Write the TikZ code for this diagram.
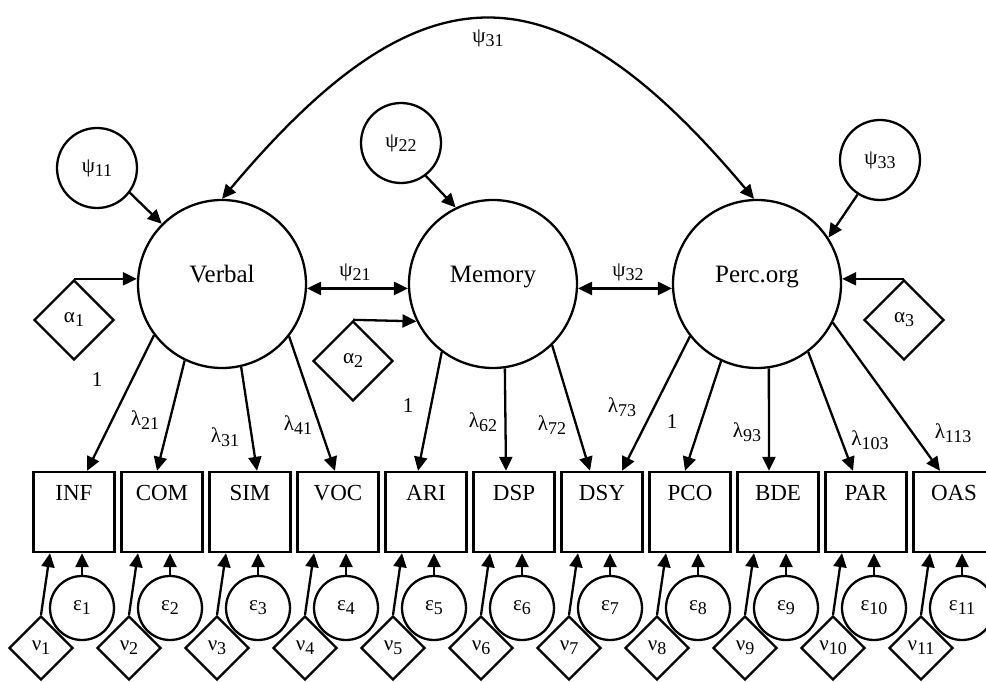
\documentclass[tikz,border=0pt]{standalone}
\usepackage{fontspec}
\setmainfont{Liberation Serif}
\usetikzlibrary{shapes.geometric,arrows.meta,calc}
\newcommand{\sbs}[1]{\raisebox{-2pt}{\fontsize{9}{10}\selectfont #1}}

\begin{document}
\begin{tikzpicture}
[x=0.5pt, y=0.5pt, line width=1.15pt, >={Triangle[length=7pt,width=6.5pt]},
lat/.style={circle,draw,minimum size=84pt,inner sep=0pt,text height=8pt,text depth=9pt,font=\fontsize{12.5}{14}\selectfont},
dist/.style={circle,draw,minimum size=40pt,inner sep=0pt,font=\fontsize{10.5}{12}\selectfont},
mean/.style={diamond,draw,aspect=1,minimum size=40pt,inner sep=0pt,font=\fontsize{10.5}{12}\selectfont},
obs/.style={rectangle,draw,minimum width=40.5pt,inner sep=0pt,text height=14.5pt,text depth=25.5pt,font=\fontsize{11.5}{13}\selectfont},
err/.style={circle,draw,minimum size=32pt,inner sep=0pt,font=\fontsize{10.5}{12}\selectfont},
icpt/.style={diamond,draw,aspect=1,minimum size=32pt,inner sep=0pt,font=\fontsize{10.5}{12}\selectfont},
lbl/.style={inner sep=1pt,font=\fontsize{10.5}{12}\selectfont}]
\useasboundingbox (0,0) rectangle (986,681);

% factors
\node[lat] (V) at (222,397) {Verbal};
\node[lat] (M) at (493,397) {Memory};
\node[lat] (P) at (757,397) {Perc.org};

\node[dist] (psi11) at (97,513) {ψ\sbs{11}};
\node[dist] (psi22) at (401,538) {ψ\sbs{22}};
\node[dist] (psi33) at (880,521) {ψ\sbs{33}};

\node[mean] (a1) at (74,361) {α\sbs{1}};
\node[mean] (a2) at (353,320) {α\sbs{2}};
\node[mean] (a3) at (904,361) {α\sbs{3}};

\draw[->] (psi11.-37) -- (V.135);
\draw[->] (psi22.-53) -- (M.116);
\draw[->] (psi33.237) -- (P.33);
\draw[->] (a1.north) -- (a1.north -| V.west);
\draw[->] (a2.north) -- (M.206);
\draw[->] (a3.north) -- (a3.north -| P.east);

\draw[<->] (V.-3) -- (M.183);
\draw[<->] (M.-3) -- (P.183);
\draw[<->] (V.90) to[out=50,in=130,looseness=1.5] node[lbl,pos=.5,yshift=-9pt] (l31) {ψ\sbs{31}} (P.92);
\node[lbl] (l21) at (355,409) {ψ\sbs{21}};
\node[lbl] (l32) at (628,409) {ψ\sbs{32}};

% indicators
\foreach \nm/\lab [count=\i] in {inf/INF,com/COM,sim/SIM,voc/VOC,ari/ARI,dsp/DSP,dsy/DSY,pco/PCO,bde/BDE,par/PAR,oas/OAS}{
  \node[obs] (\nm) at ({74+88*(\i-1)},169) {\lab};
  \node[err] (e\i) at ({82+88*(\i-1)},73) {ε\sbs{\i}};
  \node[icpt] (n\i) at ({41+88*(\i-1)},33) {ν\sbs{\i}};
  \draw[->] (e\i.north) -- (e\i.north |- \nm.south);
  \draw[->] (n\i.north) -- ($(\nm.south)+(-24,0)$);
}

\draw[->] (V.217) -- ($(inf.north)+(13,0)$);
\draw[->] (V.244) -- ($(com.north)+(-5,0)$);
\draw[->] (V.283) -- ($(sim.north)+(7,0)$);
\draw[->] (V.322) -- ($(voc.north)+(-3,0)$);
\draw[->] (M.233) -- ($(ari.north)+(-8,0)$);
\draw[->] (M.278) -- ($(dsp.north)+(-8,0)$);
\draw[->] (M.314) -- ($(dsy.north)+(-12,0)$);
\draw[->] (P.218) -- ($(dsy.north)+(20,0)$);
\draw[->] (P.245) -- ($(pco.north)+(-5,0)$);
\draw[->] (P.278) -- ($(bde.north)+(-9,0)$);
\draw[->] (P.307) -- ($(par.north)+(-13,0)$);
\draw[->] (P.333) -- ($(oas.north)+(-14,0)$);

\node[lbl] (k1) at (97,301) {1};
\node[lbl] (k21) at (145,261) {λ\sbs{21}};
\node[lbl] (k31) at (225,244) {λ\sbs{31}};
\node[lbl] (k41) at (298,256) {λ\sbs{41}};
\node[lbl] (k5) at (408,275) {1};
\node[lbl] (k62) at (483,259) {λ\sbs{62}};
\node[lbl] (k72) at (552,256) {λ\sbs{72}};
\node[lbl] (k73) at (622,274) {λ\sbs{73}};
\node[lbl] (k8) at (672,259) {1};
\node[lbl] (k93) at (747,249) {λ\sbs{93}};
\node[lbl] (k103) at (870,241) {λ\sbs{103}};
\node[lbl] (k113) at (953,248) {λ\sbs{113}};
\end{tikzpicture}
\end{document}
